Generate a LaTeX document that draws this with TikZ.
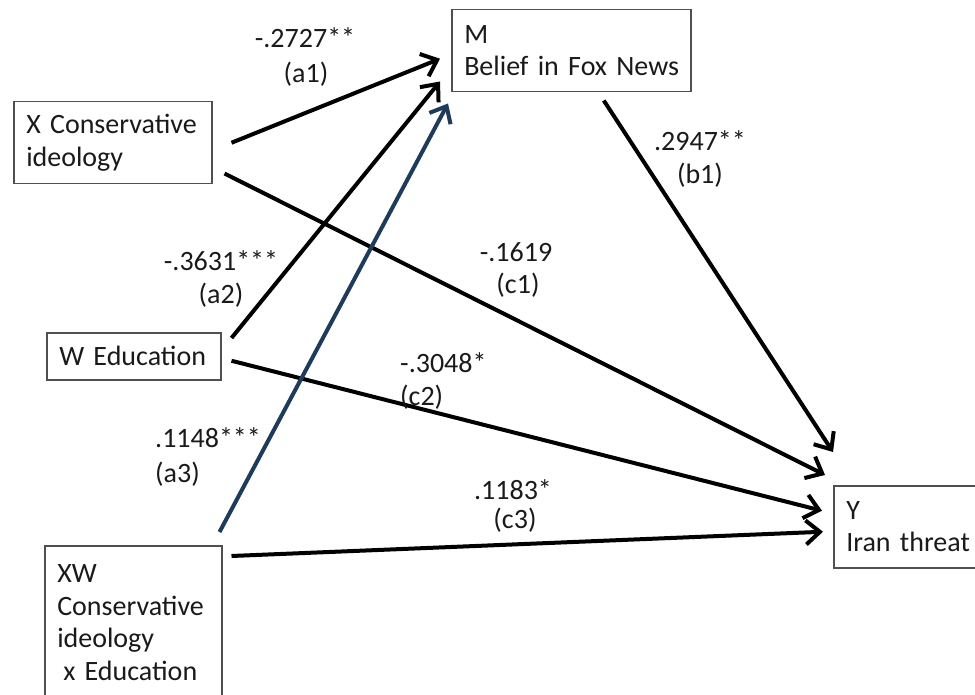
\documentclass[tikz,border=0pt]{standalone}
\usepackage{fontspec}
\setmainfont{Carlito}
\usetikzlibrary{arrows.meta,calc}
\definecolor{navy}{HTML}{1F3B5A}
\definecolor{ink}{HTML}{1A1A1A}
\definecolor{boxline}{HTML}{505050}
\begin{document}
\begin{tikzpicture}[x=1pt,y=-1pt,
  every node/.style={font=\fontsize{28}{32.5}\selectfont, text=ink},
  box/.style={draw=boxline, line width=1.5pt, anchor=north west, align=left, inner xsep=12.5pt, inner ysep=0pt},
  lbl/.style={inner sep=0pt},
  arr/.style={line width=4pt, -{Straight Barb[length=14pt,width=24pt]}},
  ]
\clip (0,0) rectangle (975,695);
\fill[white] (0,0) rectangle (975,695);
% boxes
\node[box, text width=173pt, minimum height=82pt] (X) at (13,101) {\mbox{X Conservative}\\ideology};
\node[box, text width=214pt, minimum height=82pt] (M) at (451,9) {M\\\mbox{Belief in Fox News}};
\node[box, text width=149pt, minimum height=47pt] (W) at (46,332) {\mbox{W Education}};
\node[box, text width=152pt, minimum height=154pt] (XW) at (44,545) {XW\\\mbox{Conservative}\\ideology\\\mbox{\hspace*{6pt}x Education}};
\node[box, text width=135pt, minimum height=82pt] (Y) at (833,485) {Y\\\mbox{Iran threat}};
% connectors
\draw[arr] ([shift={(19,0)}]X.east) -- ([shift={(-11,8)}]M.west);
\draw[arr] ([shift={(12,-11)}]X.south east) -- ([shift={(-8,-10)}]Y.north west);
\draw[arr] ([shift={(10,6)}]W.north east) -- ([shift={(-11,-11)}]M.south west);
\draw[arr] ([shift={(10,4.5)}]W.east) -- ([shift={(-11,-16)}]Y.west);
\draw[arr, draw=navy, color=navy] ([shift={(-3,-13)}]XW.north east) -- ([shift={(-3,11)}]M.south west);
\draw[arr] ([shift={(9,11)}]XW.north east) -- ([shift={(-10,5)}]Y.west);
\draw[arr] ([shift={(32.5,8)}]M.south) -- ([shift={(0,-33)}]Y.north west);
% labels
\node[lbl] (la1) at (305,38) {-.2727**};
\node[lbl] (la1n) at (306,74) {(a1)};
\node[lbl] (lb1) at (700,141) {.2947**};
\node[lbl] (lb1n) at (700,175) {(b1)};
\node[lbl] (la2) at (221,261) {-.3631***};
\node[lbl] (la2n) at (221,295) {(a2)};
\node[lbl] (lc1) at (516,252) {-.1619};
\node[lbl] (lc1n) at (518,285) {(c1)};
\node[lbl, anchor=west] (lc2) at (400,363) {-.3048*};
\node[lbl, anchor=west] (lc2n) at (400,397) {(c2)};
\node[lbl] (lc3) at (513,490) {.1183*};
\node[lbl] (lc3n) at (515,520) {(c3)};
\node[lbl, anchor=west] (la3) at (155,438) {.1148***};
\node[lbl, anchor=west] (la3n) at (155,474) {(a3)};
\end{tikzpicture}
\end{document}
